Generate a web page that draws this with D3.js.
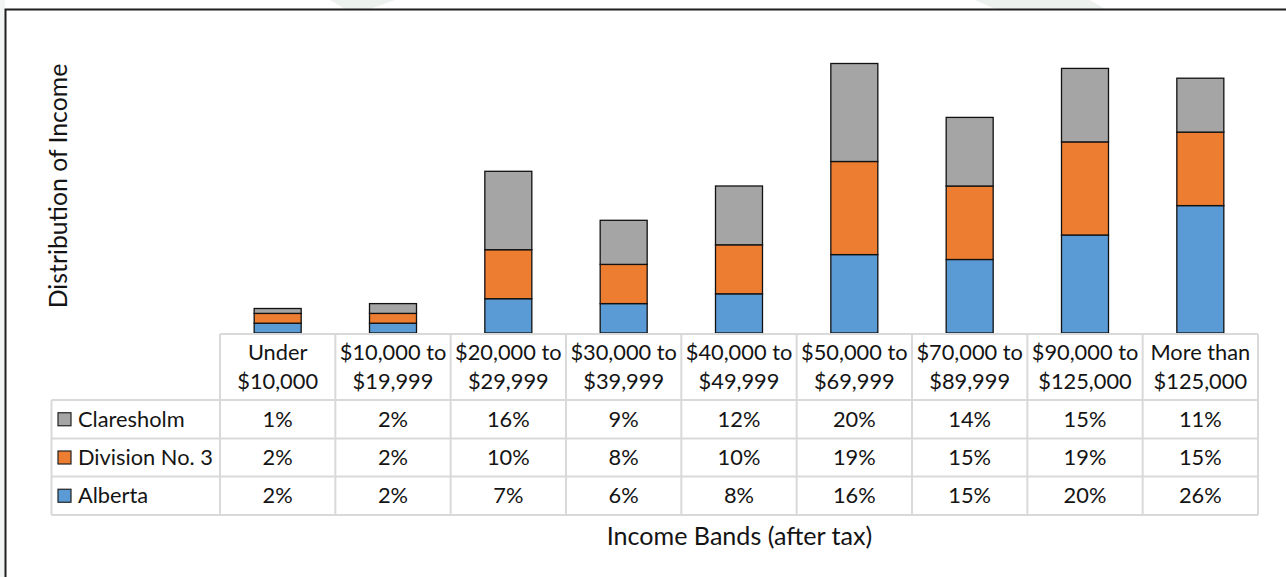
<!DOCTYPE html>
<html><head><meta charset="utf-8">
<script src="https://cdn.jsdelivr.net/npm/d3@7"></script>
<style>
html,body{margin:0;padding:0;background:#fff;}
svg{display:block;}
text{font-family:Lato, "Open Sans", sans-serif;fill:#141414;}
</style></head>
<body>
<svg id="chart" width="1286" height="577"></svg>
<script>
const categories = [
  ["Under","$10,000"],
  ["$10,000 to","$19,999"],
  ["$20,000 to","$29,999"],
  ["$30,000 to","$39,999"],
  ["$40,000 to","$49,999"],
  ["$50,000 to","$69,999"],
  ["$70,000 to","$89,999"],
  ["$90,000 to","$125,000"],
  ["More than","$125,000"]
];
const seriesNames = ["Claresholm","Division No. 3","Alberta"];
const claresholm = [1,2,16,9,12,20,14,15,11];
const division3  = [2,2,10,8,10,19,15,19,15];
const alberta    = [2,2,7,6,8,16,15,20,26];
const seriesColors = ["#A5A5A5","#ED7D31","#5B9BD5"];
const yTitle = "Distribution of Income";
const xTitle = "Income Bands (after tax)";

const svg = d3.select("#chart");
const W = 1286, H = 577;

// faint background watermark shapes
svg.append("polygon").attr("points","330,0 395,0 370,9 345,9").attr("fill","#eef2ef");
svg.append("polygon").attr("points","975,0 1090,0 1105,9 995,9").attr("fill","#eef2ef");
svg.append("rect").attr("x",0).attr("y",0).attr("width",5).attr("height",H).attr("fill","#f2f5f3");

// frame
svg.append("path").attr("d","M5.5,577 V9.5 H1286").attr("fill","none").attr("stroke","#1f1f1f").attr("stroke-width",2);

const keys = categories.map((c,i)=>i);
const x = d3.scaleBand().domain(keys).range([220,1258]).paddingInner(0).paddingOuter(0);
const y = d3.scaleLinear().domain([0,60]).range([333,39]);

const table = keys.map(i=>({i, a:alberta[i], d:division3[i], c:claresholm[i]}));
const stack = d3.stack().keys(["a","d","c"])(table);
const colorByKey = {a:seriesColors[2], d:seriesColors[1], c:seriesColors[0]};
const barW = 47;

svg.append("g").selectAll("g").data(stack).join("g")
  .attr("fill",d=>colorByKey[d.key])
  .selectAll("rect").data(d=>d).join("rect")
  .attr("x",d=>x(d.data.i)+x.bandwidth()/2-barW/2)
  .attr("width",barW)
  .attr("y",d=>y(d[1]))
  .attr("height",d=>y(d[0])-y(d[1]))
  .attr("stroke","#111").attr("stroke-width",1.3);

// data table
const grid = "#d9d9d9";
const headTop = 334, rowTops = [400,438.5,476.5], rowBottom = 515, legendLeft = 51.5;
const g = svg.append("g");
g.append("line").attr("x1",220).attr("x2",1258).attr("y1",headTop).attr("y2",headTop).attr("stroke",grid).attr("stroke-width",2);
[...rowTops, rowBottom].forEach(yy=>{
  g.append("line").attr("x1",legendLeft).attr("x2",1258).attr("y1",yy).attr("y2",yy).attr("stroke",grid).attr("stroke-width",2);
});
keys.forEach(i=>{
  g.append("line").attr("x1",x(i)).attr("x2",x(i)).attr("y1",headTop).attr("y2",rowBottom).attr("stroke",grid).attr("stroke-width",2);
});
g.append("line").attr("x1",1258).attr("x2",1258).attr("y1",headTop).attr("y2",rowBottom).attr("stroke",grid).attr("stroke-width",2);
g.append("line").attr("x1",legendLeft).attr("x2",legendLeft).attr("y1",rowTops[0]).attr("y2",rowBottom).attr("stroke",grid).attr("stroke-width",2);

const fs = 21.8;
keys.forEach(i=>{
  const cx = x(i)+x.bandwidth()/2;
  categories[i].forEach((line,k)=>{
    g.append("text").attr("x",cx).attr("y",360+k*29).attr("text-anchor","middle")
      .attr("font-size",fs).text(line);
  });
});
const tableRows = [
  {name:seriesNames[0], values:claresholm, color:seriesColors[0]},
  {name:seriesNames[1], values:division3, color:seriesColors[1]},
  {name:seriesNames[2], values:alberta, color:seriesColors[2]}
];
tableRows.forEach((r,ri)=>{
  const top = rowTops[ri], bot = ri<2?rowTops[ri+1]:rowBottom;
  const cy = (top+bot)/2;
  g.append("rect").attr("x",58).attr("y",cy-6.5).attr("width",13).attr("height",13)
    .attr("fill",r.color).attr("stroke","#222").attr("stroke-width",1.2);
  g.append("text").attr("x",78).attr("y",cy+7.5).attr("font-size",fs).text(r.name);
  r.values.forEach((v,i)=>{
    g.append("text").attr("x",x(i)+x.bandwidth()/2).attr("y",cy+7.5).attr("text-anchor","middle")
      .attr("font-size",fs).text(v+"%");
  });
});

svg.append("text").attr("transform","translate(67,186) rotate(-90)").attr("text-anchor","middle")
  .attr("font-size",24.8).text(yTitle);
svg.append("text").attr("x",739.5).attr("y",545).attr("text-anchor","middle")
  .attr("font-size",25.1).text(xTitle);
</script>
</body></html>
